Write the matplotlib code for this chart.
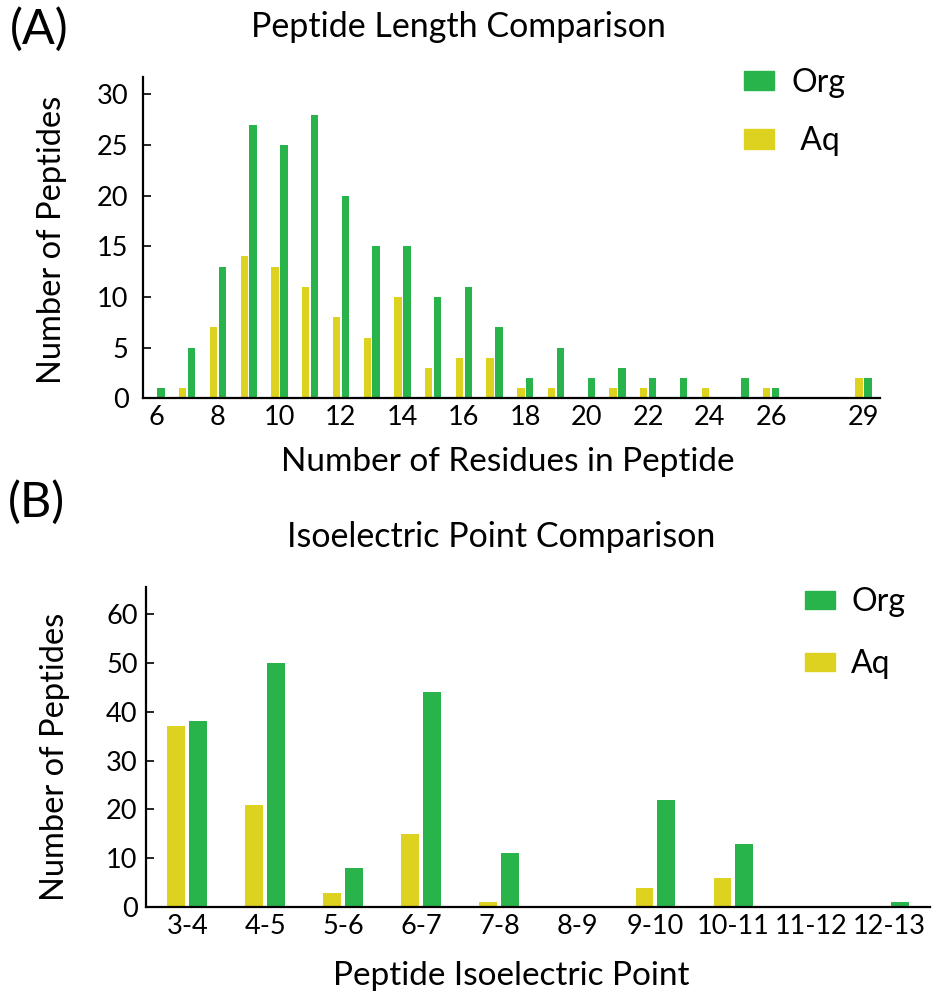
import matplotlib
matplotlib.use("Agg")
import matplotlib.pyplot as plt
import numpy as np
from matplotlib.patches import Patch

plt.rcParams['font.family'] = ['Lato', 'DejaVu Sans']

# ---- Panel A data ----
lengths = [6, 7, 8, 9, 10, 11, 12, 13, 14, 15, 16, 17, 18, 19, 20, 21, 22, 23, 24, 25, 26, 29]
org_len = [1, 5, 13, 27, 25, 28, 20, 15, 15, 10, 11, 7, 2, 5, 2, 3, 2, 2, 0, 2, 1, 2]
aq_len = [0, 1, 7, 14, 13, 11, 8, 6, 10, 3, 4, 4, 1, 1, 0, 1, 1, 0, 1, 0, 1, 2]
len_ticks = [6, 8, 10, 12, 14, 16, 18, 20, 22, 24, 26, 29]

# ---- Panel B data ----
pi_bins = ["3-4", "4-5", "5-6", "6-7", "7-8", "8-9", "9-10", "10-11", "11-12", "12-13"]
org_pi = [38, 50, 8, 44, 11, 0, 22, 13, 0, 1]
aq_pi = [37, 21, 3, 15, 1, 0, 4, 6, 0, 0]

GREEN = "#29b34b"
YELLOW = "#ded221"
W, H = 934, 998

fig = plt.figure(figsize=(9.34, 9.98), dpi=100)

def style(ax, ypad, xpad):
    for s in ["top", "right"]:
        ax.spines[s].set_visible(False)
    for s in ["left", "bottom"]:
        ax.spines[s].set_linewidth(1.6)
    ax.tick_params(axis='y', direction='in', length=6, width=1.2, labelsize=19.5, pad=ypad)
    ax.tick_params(axis='x', length=0, labelsize=19.5, pad=xpad)

# Panel A
a_l, a_r, a_b, a_t = 143, 880, 398.3, 76.7
axA = fig.add_axes([a_l/W, 1-a_b/H, (a_r-a_l)/W, (a_b-a_t)/H])
x = np.array(lengths, dtype=float)
w = 0.24
axA.bar(x - 0.145, aq_len, width=w, color=YELLOW, label="Aq")
axA.bar(x + 0.145, org_len, width=w, color=GREEN, label="Org")
axA.set_xlim(5.56, 29.54)
axA.set_ylim(0, 31.75)
axA.set_yticks([0, 5, 10, 15, 20, 25, 30])
axA.set_xticks(len_ticks)
style(axA, 10.5, 5)
axA.set_xlabel("Number of Residues in Peptide", fontsize=24, va="center")
axA.xaxis.set_label_coords((508-a_l)/(a_r-a_l), (a_b-462)/(a_b-a_t))
axA.set_ylabel("Number of Peptides", fontsize=23.5, va="center")
axA.yaxis.set_label_coords((52-a_l)/(a_r-a_l), (a_b-240)/(a_b-a_t))
hA = [Patch(color=GREEN), Patch(color=YELLOW)]
axA.legend(hA, ["Org", " Aq"], frameon=False, fontsize=23, loc="center",
           bbox_to_anchor=(795/W, 1-112/H), bbox_transform=fig.transFigure,
           labelspacing=0.9, handlelength=0.95, handleheight=0.55, handletextpad=0.55)

# Panel B
b_l, b_r, b_b, b_t = 146, 930, 907.3, 587.3
axB = fig.add_axes([b_l/W, 1-b_b/H, (b_r-b_l)/W, (b_b-b_t)/H])
xb = np.arange(len(pi_bins))
wb = 0.23
axB.bar(xb - 0.14, aq_pi, width=wb, color=YELLOW, label="Aq")
axB.bar(xb + 0.14, org_pi, width=wb, color=GREEN, label="Org")
axB.set_xlim(-0.53, 9.52)
axB.set_ylim(0, 65.4)
axB.set_yticks([0, 10, 20, 30, 40, 50, 60])
axB.set_xticks(xb)
axB.set_xticklabels(pi_bins)
style(axB, 6, 5)
axB.set_xlabel("Peptide Isoelectric Point", fontsize=24, va="center")
axB.xaxis.set_label_coords((511-b_l)/(b_r-b_l), (b_b-976)/(b_b-b_t))
axB.set_ylabel("Number of Peptides", fontsize=23.5, va="center")
axB.yaxis.set_label_coords((55-b_l)/(b_r-b_l), (b_b-757)/(b_b-b_t))
axB.legend(hA, ["Org", "Aq"], frameon=False, fontsize=23, loc="center",
           bbox_to_anchor=(855/W, 1-633/H), bbox_transform=fig.transFigure,
           labelspacing=1.0, handlelength=0.95, handleheight=0.5, handletextpad=0.5)

fig.text(458/W, 1-27/H, "Peptide Length Comparison", ha="center", va="center", fontsize=24.5)
fig.text(501/W, 1-537/H, "Isoelectric Point Comparison", ha="center", va="center", fontsize=24.5)
fig.text(10/W, 1-29/H, "(A)", ha="left", va="center", fontsize=35)
fig.text(8/W, 1-502/H, "(B)", ha="left", va="center", fontsize=35)

fig.savefig("out.png", dpi=100)
